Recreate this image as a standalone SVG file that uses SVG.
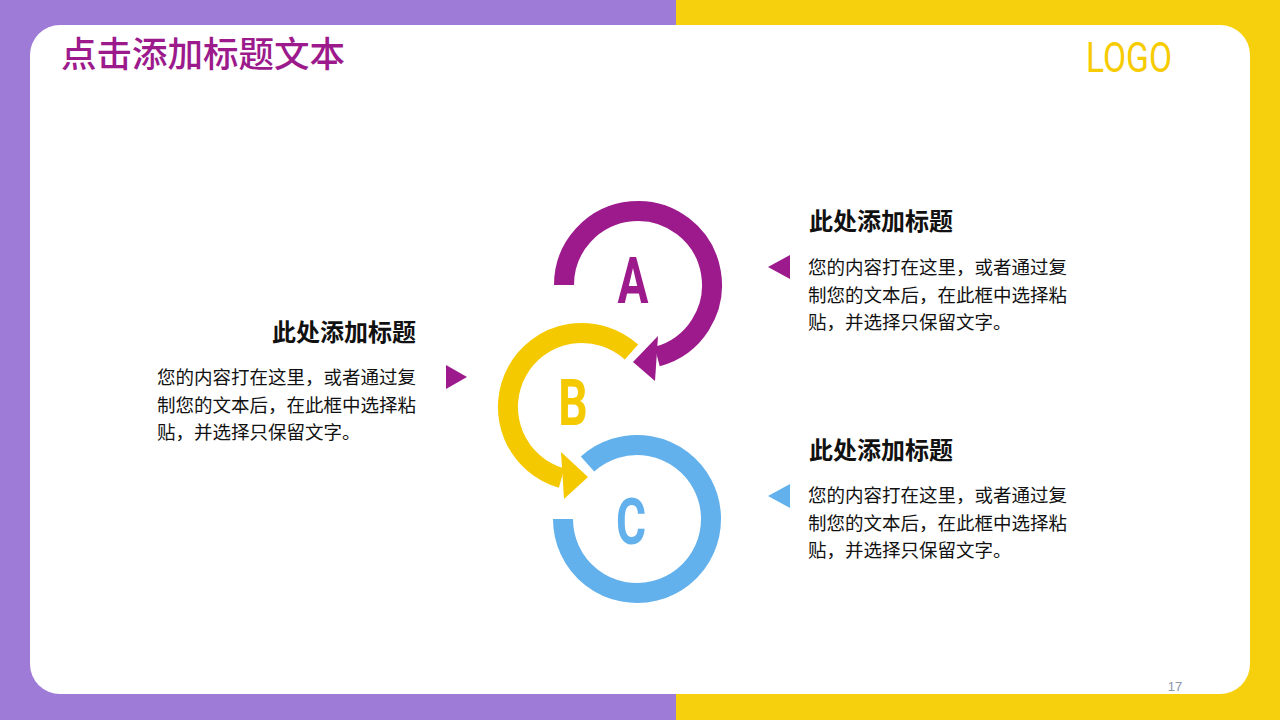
<svg xmlns="http://www.w3.org/2000/svg" width="1280" height="720" viewBox="0 0 1280 720">
<style>
.cjk{font-family:"Noto Sans CJK SC","Liberation Sans",sans-serif}
.h{font-size:24px;font-weight:bold;fill:#111}
.b{font-size:18.5px;fill:#111}
.ring{fill:none;stroke-width:20;stroke-linecap:butt}
.let{font-family:Roboto,"Liberation Sans",sans-serif;font-weight:bold;font-size:64px;text-anchor:middle}
</style>
<rect x="0" y="0" width="676" height="720" fill="#9D7BD7"/>
<rect x="676" y="0" width="604" height="720" fill="#F6D00C"/>
<rect x="30" y="25" width="1220" height="669" rx="30" ry="30" fill="#FFFFFF"/>
<text x="61" y="67" class="cjk" font-size="35.5" font-weight="500" fill="#9C1A8C">点击添加标题文本</text>
<text x="0" y="0" transform="translate(1086,72) scale(0.78,1)" font-family="Roboto,'Liberation Sans',sans-serif" font-size="43" fill="#F6CB00">LOGO</text>

<g id="connectors">
<g id="ringA">
<path class="ring" stroke="#9C1A8C" d="M564,285 A74,74 0 1 1 657.15,356.48"/>
<polygon fill="#9C1A8C" points="658,336 655,381 633,362"/>
</g>
<g id="ringB">
<path class="ring" stroke="#F5C900" d="M631.5,352 A74,74 0 1 0 561.6,478.1"/>
<polygon fill="#F5C900" points="561,452 564,499 588,477"/>
</g>
<g id="ringC">
<path class="ring" stroke="#63B1EC" d="M563,519 A74,74 0 1 0 587.5,464"/>
</g>
</g>

<g id="nodeA"><text class="let" fill="#9C1A8C" transform="translate(633,303) scale(0.72,1)">A</text></g>
<g id="nodeB"><text class="let" fill="#F5C900" transform="translate(573,425) scale(0.72,1)">B</text></g>
<g id="nodeC"><text class="let" fill="#63B1EC" transform="translate(631,544) scale(0.72,1)">C</text></g>

<g id="left-text">
<text x="416" y="341" class="cjk h" text-anchor="end">此处添加标题</text>
<text class="cjk b"><tspan x="157" y="384">您的内容打在这里，或者通过复</tspan><tspan x="157" y="411.5">制您的文本后，在此框中选择粘</tspan><tspan x="157" y="439">贴，并选择只保留文字。</tspan></text>
<polygon fill="#9C1A8C" points="446,365 467,377 446,389"/>
</g>

<g id="right-text-1">
<text x="809" y="230" class="cjk h">此处添加标题</text>
<text class="cjk b"><tspan x="808" y="274">您的内容打在这里，或者通过复</tspan><tspan x="808" y="301.5">制您的文本后，在此框中选择粘</tspan><tspan x="808" y="329">贴，并选择只保留文字。</tspan></text>
<polygon fill="#9C1A8C" points="790,255 768,267 790,279"/>
</g>

<g id="right-text-2">
<text x="809" y="459" class="cjk h">此处添加标题</text>
<text class="cjk b"><tspan x="808" y="502">您的内容打在这里，或者通过复</tspan><tspan x="808" y="529.5">制您的文本后，在此框中选择粘</tspan><tspan x="808" y="557">贴，并选择只保留文字。</tspan></text>
<polygon fill="#63B1EC" points="790,484 768,496 790,508"/>
</g>

<text x="1175" y="691" font-family="'Liberation Sans',sans-serif" font-size="13" fill="#8C96A8" text-anchor="middle">17</text>
</svg>
